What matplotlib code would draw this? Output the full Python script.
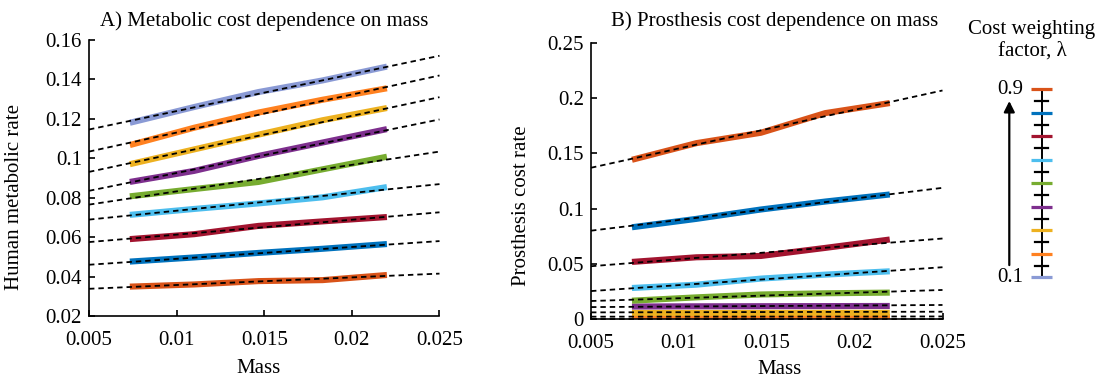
import numpy as np
import matplotlib
matplotlib.use("Agg")
import matplotlib.pyplot as plt

plt.rcParams["font.family"] = ["Liberation Serif", "DejaVu Serif"]

# ─── data ───────────────────────────────────────────────────────────────
mass = [0.00733, 0.011, 0.01467, 0.01833, 0.022]
lambdas = [0.1, 0.2, 0.3, 0.4, 0.5, 0.6, 0.7, 0.8, 0.9]
colors = ["#8A9AD5", "#FF8120", "#EDB120", "#7E2F8E", "#77AC30",
          "#4DBEEE", "#A2142F", "#0072BD", "#D95319"]

# human metabolic rate, one row per lambda (0.1 ... 0.9)
metab = [
    [0.1180, 0.1260, 0.1336, 0.1395, 0.1465],
    [0.1067, 0.1155, 0.1232, 0.1297, 0.1355],
    [0.0970, 0.1045, 0.1120, 0.1193, 0.1255],
    [0.0880, 0.0936, 0.1012, 0.1080, 0.1148],
    [0.0807, 0.0844, 0.0880, 0.0944, 0.1008],
    [0.0713, 0.0743, 0.0771, 0.0802, 0.0854],
    [0.0590, 0.0615, 0.0657, 0.0680, 0.0702],
    [0.0476, 0.0497, 0.0520, 0.0541, 0.0565],
    [0.0349, 0.0360, 0.0377, 0.0382, 0.0408],
]
# linear fits evaluated at mass = 0.005 and 0.025
fit_mass = [0.005, 0.025]
metab_fit = [
    [0.1146, 0.1520],
    [0.1034, 0.1420],
    [0.0931, 0.1310],
    [0.0835, 0.1197],
    [0.0765, 0.1034],
    [0.0689, 0.0869],
    [0.0575, 0.0726],
    [0.0460, 0.0580],
    [0.0338, 0.0415],
]

# prosthesis cost rate
prosth = [
    [0.0004, 0.0004, 0.0004, 0.0004, 0.0004],
    [0.0019, 0.0019, 0.0019, 0.0019, 0.0019],
    [0.0055, 0.0055, 0.0055, 0.0056, 0.0056],
    [0.0113, 0.0115, 0.0116, 0.0117, 0.0118],
    [0.0166, 0.0196, 0.0222, 0.0233, 0.0239],
    [0.0281, 0.0311, 0.0366, 0.0402, 0.0432],
    [0.0517, 0.0559, 0.0571, 0.0644, 0.0720],
    [0.0831, 0.0907, 0.0992, 0.1064, 0.1128],
    [0.1442, 0.1593, 0.1687, 0.1865, 0.1956],
]
prosth_fit = [
    [0.0000, 0.0000],
    [0.0021, 0.0023],
    [0.0060, 0.0066],
    [0.0108, 0.0127],
    [0.0163, 0.0263],
    [0.0253, 0.0469],
    [0.0478, 0.0729],
    [0.0800, 0.1188],
    [0.1370, 0.2070],
]

x_ticks = [0.005, 0.01, 0.015, 0.02, 0.025]
x_ticklabels = ["0.005", "0.01", "0.015", "0.02", "0.025"]
a_yticks = [0.02, 0.04, 0.06, 0.08, 0.10, 0.12, 0.14, 0.16]
a_yticklabels = ["0.02", "0.04", "0.06", "0.08", "0.1", "0.12", "0.14", "0.16"]
b_yticks = [0, 0.05, 0.10, 0.15, 0.20, 0.25]
b_yticklabels = ["0", "0.05", "0.1", "0.15", "0.2", "0.25"]

W, H = 1103, 379
fig = plt.figure(figsize=(W / 100, H / 100), dpi=100)
TICK_FS = 15


def px_axes(x0, x1, ytop, ybot):
    return fig.add_axes([x0 / W, (H - ybot) / H, (x1 - x0) / W, (ybot - ytop) / H])


def style_axes(ax, yticks, yticklabels):
    for s in ("top", "right"):
        ax.spines[s].set_visible(False)
    for s in ("left", "bottom"):
        ax.spines[s].set_linewidth(1.2)
    ax.set_xlim(0.005, 0.025)
    ax.set_xticks(x_ticks)
    ax.set_xticklabels(x_ticklabels)
    ax.set_yticks(yticks)
    ax.set_yticklabels(yticklabels)
    ax.tick_params(direction="in", length=4, width=1.2, labelsize=TICK_FS)
    ax.tick_params(axis="x", pad=11)
    ax.tick_params(axis="y", pad=5)


def draw_panel(ax, rows, fits):
    for row, c in zip(rows, colors):
        ax.plot(mass, row, color=c, lw=4.4, solid_capstyle="butt", zorder=2)
    for f in fits:
        ax.plot(fit_mass, f, color="black", lw=1.3, dashes=(3, 2.2),
                clip_on=False, zorder=3)


# ─── A) metabolic cost ──────────────────────────────────────────────────
axA = px_axes(89, 439.5, 40, 316)
draw_panel(axA, metab, metab_fit)
axA.set_ylim(0.02, 0.16)
style_axes(axA, a_yticks, a_yticklabels)
axA.text(0.50, 1.05, "A) Metabolic cost dependence on mass",
         transform=axA.transAxes, ha="center", va="baseline", fontsize=15)
axA.set_xlabel("Mass", fontsize=15)
axA.xaxis.set_label_coords(0.485, -0.155)
axA.set_ylabel("Human metabolic rate", fontsize=15)
axA.yaxis.set_label_coords(-0.185, 0.43)

# ─── B) prosthesis cost ─────────────────────────────────────────────────
axB = px_axes(591, 942.5, 43, 319)
draw_panel(axB, prosth, prosth_fit)
axB.set_ylim(0, 0.25)
style_axes(axB, b_yticks, b_yticklabels)
axB.text(0.523, 1.06, "B) Prosthesis cost dependence on mass",
         transform=axB.transAxes, ha="center", va="baseline", fontsize=15)
axB.set_xlabel("Mass", fontsize=15)
axB.xaxis.set_label_coords(0.537, -0.15)
axB.set_ylabel("Prosthesis cost rate", fontsize=15)
axB.yaxis.set_label_coords(-0.17, 0.41)

# ─── C) lambda colour key ───────────────────────────────────────────────
fig.text(1032 / W, 1 - 20 / H, "Cost weighting\nfactor, λ", ha="center",
         va="top", fontsize=15, linespacing=1.15)

axC = px_axes(990, 1060, 89.3 - 4.7, 277.3 + 4.7)
axC.set_xlim(0, 70)
axC.set_ylim(0.08, 0.92)
axC.axis("off")
axC.plot([51.7, 51.7], [lambdas[0], lambdas[-1]], color="black", lw=1.4)
for lam in lambdas[:-1]:
    axC.plot([45, 58], [lam + 0.05, lam + 0.05], color="black", lw=1.6)
for lam, c in zip(lambdas, colors):
    axC.plot([41, 62], [lam, lam], color=c, lw=2.3, solid_capstyle="butt")
axC.annotate("", xy=(19.3, 0.85), xytext=(19.3, 0.152),
             arrowprops=dict(arrowstyle="-|>", color="black", lw=1.6,
                             mutation_scale=16, shrinkA=0, shrinkB=0))
axC.text(33, lambdas[-1], "0.9", ha="right", va="center", fontsize=TICK_FS)
axC.text(33, lambdas[0], "0.1", ha="right", va="center", fontsize=TICK_FS)

fig.savefig("out.png", dpi=100)
